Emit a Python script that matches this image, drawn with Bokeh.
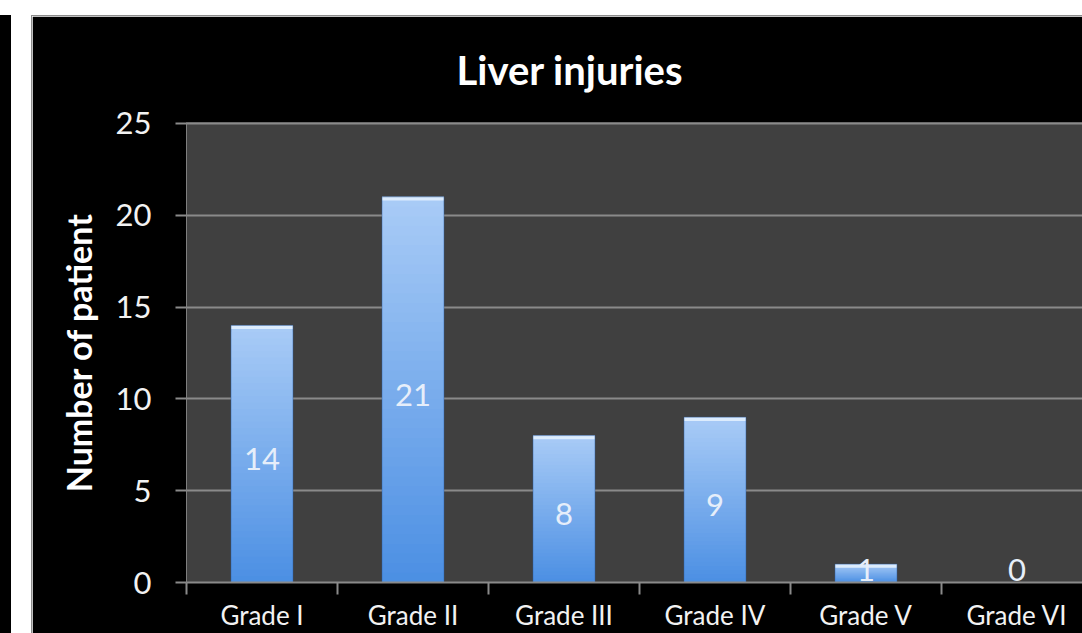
from bokeh.plotting import figure
from bokeh.models import ColumnDataSource, FixedTicker, LabelSet, Range1d, Spacer
from bokeh.layouts import column, row
from bokeh.embed import file_html
from bokeh.resources import INLINE
from bokeh.core.properties import value

# ---- data ----
categories = ["Grade I", "Grade II", "Grade III", "Grade IV", "Grade V", "Grade VI"]
patients = [14, 21, 8, 9, 1, 0]
y_ticks = [0, 5, 10, 15, 20, 25]

# ---- styling ----
BAR_W = 0.41
N_BANDS = 40
BOTTOM_RGB = (0x4a, 0x8e, 0xe3)
TOP_RGB = (0xa8, 0xcb, 0xf6)
CAP_COLOR = "#dcecfd"
FONT = "Lato"
LABEL_FLOOR = 0.98  # keeps short-bar value labels inside the plot area

x_centers = [i + 0.5 for i in range(len(categories))]


def mix(t):
    r, g, b = (round(a + (c - a) * t) for a, c in zip(BOTTOM_RGB, TOP_RGB))
    return f"#{r:02x}{g:02x}{b:02x}"


# vertical gradient: nested bars from the bottom, tallest (lightest) first
band_x, band_top, band_color = [], [], []
for k in range(N_BANDS, 0, -1):
    t = k / N_BANDS
    for xc, v in zip(x_centers, patients):
        if v > 0:
            band_x.append(xc)
            band_top.append(v * t)
            band_color.append(mix(t))
bands = ColumnDataSource(dict(x=band_x, top=band_top, color=band_color))

bar_src = ColumnDataSource(dict(
    x=[xc for xc, v in zip(x_centers, patients) if v > 0],
    top=[v for v in patients if v > 0],
    cap=[v - 0.2 for v in patients if v > 0],
))

label_src = ColumnDataSource(dict(
    x=x_centers,
    y=[max(v / 2, LABEL_FLOOR) for v in patients],
    text=[str(v) for v in patients],
))

p = figure(width=1050, height=617, output_backend="svg", toolbar_location=None,
           x_range=Range1d(0, 5.934), y_range=Range1d(0, 25.05),
           min_border_left=154, min_border_right=0,
           min_border_top=106, min_border_bottom=51)
p.border_fill_color = "black"
p.background_fill_color = "#404040"
p.outline_line_color = None

p.title.text = "Liver injuries"
p.title.text_font = FONT
p.title.text_font_style = "bold"
p.title.text_font_size = "40px"
p.title.text_color = "white"
p.title.align = "left"
p.title.offset = 270
p.title.vertical_align = "top"
p.title.standoff = 53

# bars
p.vbar(x="x", top="top", bottom=0, width=BAR_W, source=bands,
       fill_color="color", line_color=None)
p.vbar(x="x", top="top", bottom="cap", width=BAR_W, source=bar_src,
       fill_color=CAP_COLOR, line_color=None)
p.vbar(x="x", top="top", bottom=0, width=BAR_W, source=bar_src,
       fill_color=None, line_color="#2f62a8", line_alpha=0.45, line_width=1)

# grid
p.xgrid.visible = False
p.ygrid.ticker = FixedTicker(ticks=y_ticks)
p.ygrid.grid_line_color = "#8a8a8a"
p.ygrid.grid_line_width = 2
p.ygrid.level = "image"

# y axis
p.yaxis.ticker = FixedTicker(ticks=y_ticks)
p.yaxis.axis_line_color = "#7f7f7f"
p.yaxis.axis_line_width = 1
p.yaxis.major_tick_line_color = "#8a8a8a"
p.yaxis.major_tick_line_width = 2
p.yaxis.major_tick_out = 11
p.yaxis.major_tick_in = 0
p.yaxis.minor_tick_line_color = None
p.yaxis.major_label_text_font = FONT
p.yaxis.major_label_text_font_size = "31px"
p.yaxis.major_label_text_color = "#f2f2f2"
p.yaxis.major_label_standoff = 24
p.yaxis.axis_label = "Number of patient"
p.yaxis.axis_label_text_font = FONT
p.yaxis.axis_label_text_font_style = "bold"
p.yaxis.axis_label_text_font_size = "34px"
p.yaxis.axis_label_text_color = "white"
p.yaxis.axis_label_standoff = 14

# x axis: names at category centres, ticks on the boundaries between them
p.xaxis.ticker = FixedTicker(ticks=x_centers,
                             minor_ticks=list(range(len(categories) + 1)))
p.xaxis.major_label_overrides = {xc: name for xc, name in zip(x_centers, categories)}
p.xaxis.axis_line_color = "#8a8a8a"
p.xaxis.axis_line_width = 2
p.xaxis.major_tick_line_color = None
p.xaxis.major_tick_out = 0
p.xaxis.major_tick_in = 0
p.xaxis.minor_tick_line_color = "#8a8a8a"
p.xaxis.minor_tick_line_width = 2
p.xaxis.minor_tick_out = 12
p.xaxis.minor_tick_in = 0
p.xaxis.major_label_text_font = FONT
p.xaxis.major_label_text_font_size = "26px"
p.xaxis.major_label_text_color = "#f2f2f2"
p.xaxis.major_label_standoff = 4

# value labels
p.add_layout(LabelSet(x="x", y="y", text="text", source=label_src,
                      y_offset=-5,
                      text_align="center", text_baseline="middle",
                      text_font=value(FONT), text_font_size="31px",
                      text_color="#e6eefa"))

# page frame
def block(w, h, color):
    return Spacer(width=w, height=h, styles={"background-color": color})

chart = column(block(1051, 1, "#8c8c8c"),
               row(block(1, 617, "#8c8c8c"), p))
body = row(block(11, 618, "#000000"), block(20, 618, "#ffffff"), chart)
page = column(block(1082, 15, "#ffffff"), body)

open("out.html", "w").write(file_html(page, INLINE))
